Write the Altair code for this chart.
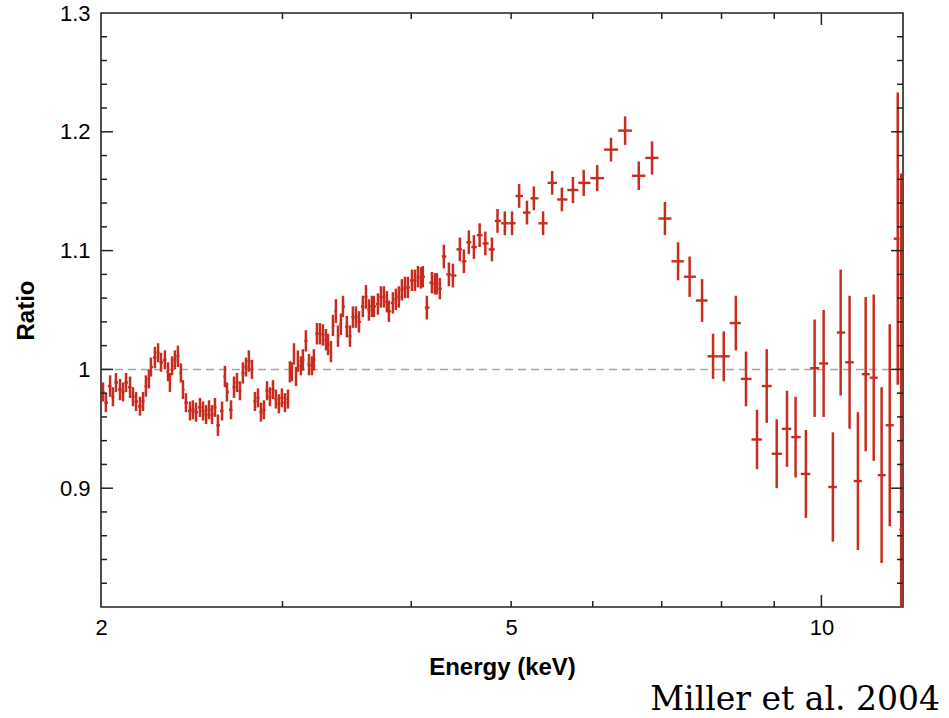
import altair as alt
import pandas as pd
import numpy as np

# ---------------- data ----------------
energy = [
    # 2 - 3 keV
    2.009, 2.022, 2.041, 2.054, 2.068, 2.087, 2.101, 2.115, 2.134, 2.148,
    2.163, 2.182, 2.197, 2.211, 2.226, 2.236, 2.256, 2.272, 2.287, 2.307,
    2.323, 2.333, 2.344, 2.359, 2.375, 2.391, 2.402, 2.418, 2.440, 2.456,
    2.473, 2.495, 2.512, 2.529, 2.546, 2.563, 2.580, 2.597, 2.621, 2.638,
    2.650, 2.674, 2.692, 2.710, 2.728, 2.746, 2.765, 2.783, 2.802, 2.821,
    2.840, 2.859, 2.878, 2.898, 2.917, 2.937, 2.956, 2.976, 2.996, 3.017,
    3.037, 3.050,
    # 3 - 4.6 keV
    3.064, 3.078, 3.092, 3.105, 3.126, 3.140, 3.161, 3.183, 3.204, 3.218,
    3.240, 3.262, 3.284, 3.306, 3.321, 3.343, 3.358, 3.380, 3.396, 3.418,
    3.434, 3.464, 3.488, 3.511, 3.535, 3.559, 3.590, 3.615, 3.639, 3.663,
    3.680, 3.713, 3.738, 3.763, 3.788, 3.805, 3.839, 3.865, 3.891, 3.917,
    3.944, 3.970, 4.006, 4.033, 4.060, 4.087, 4.105, 4.142, 4.189, 4.217,
    4.236, 4.264, 4.302, 4.351, 4.390, 4.459, 4.499, 4.549, 4.601,
    # 4.6 - 12 keV
    4.66, 4.72, 4.79, 4.85, 4.93, 5.01, 5.09, 5.18, 5.26, 5.37,
    5.48, 5.60, 5.74, 5.88, 6.06, 6.25, 6.45, 6.65, 6.85, 7.05,
    7.26, 7.45, 7.66, 7.85, 8.04, 8.26, 8.45, 8.66, 8.85, 9.05,
    9.26, 9.44, 9.66, 9.85, 10.05, 10.26, 10.44, 10.65, 10.85, 11.04,
    11.24, 11.44, 11.65, 11.86, 11.95,
]

ratio = [
    0.981, 0.972, 0.986, 0.977, 0.989, 0.983, 0.981, 0.989, 0.985, 0.977,
    0.973, 0.969, 0.973, 0.986, 0.992, 1.002, 1.010, 1.014, 1.006, 1.008,
    0.998, 0.989, 1.003, 1.008, 1.011, 0.997, 0.983, 0.972, 0.965, 0.966,
    0.964, 0.968, 0.965, 0.962, 0.966, 0.962, 0.968, 0.953, 0.965, 0.994,
    0.981, 0.966, 0.985, 0.989, 0.982, 0.997, 1.002, 1.007, 1.000, 0.973,
    0.976, 0.964, 0.966, 0.982, 0.977, 0.983, 0.975, 0.971, 0.976, 0.972,
    0.975, 0.998,
    0.998, 1.013, 0.994, 1.007, 1.003, 1.008, 1.024, 1.004, 1.003, 1.008,
    1.030, 1.030, 1.029, 1.025, 1.021, 1.015, 1.037, 1.049, 1.028, 1.038,
    1.053, 1.036, 1.028, 1.044, 1.044, 1.040, 1.053, 1.061, 1.050, 1.053,
    1.053, 1.055, 1.061, 1.061, 1.057, 1.049, 1.056, 1.059, 1.061, 1.067,
    1.069, 1.069, 1.075, 1.075, 1.078, 1.077, 1.078, 1.052, 1.073, 1.072,
    1.072, 1.068, 1.095, 1.080, 1.079, 1.101, 1.091, 1.107, 1.103,
    1.113, 1.106, 1.101, 1.125, 1.123, 1.123, 1.146, 1.132, 1.144, 1.123,
    1.157, 1.143, 1.151, 1.157, 1.161, 1.185, 1.201, 1.163, 1.178, 1.127,
    1.091, 1.078, 1.058, 1.011, 1.011, 1.039, 0.992, 0.941, 0.986, 0.929,
    0.950, 0.943, 0.912, 1.001, 1.005, 0.901, 1.031, 1.006, 0.906, 0.996,
    0.993, 0.911, 0.953, 1.110, 0.865,
]

ratio_err = [
    0.008, 0.008, 0.009, 0.008, 0.008, 0.009, 0.008, 0.008, 0.009, 0.008,
    0.008, 0.008, 0.008, 0.009, 0.008, 0.008, 0.009, 0.008, 0.008, 0.008,
    0.008, 0.008, 0.008, 0.008, 0.009, 0.008, 0.008, 0.008, 0.008, 0.008,
    0.008, 0.008, 0.008, 0.008, 0.008, 0.008, 0.008, 0.009, 0.008, 0.009,
    0.008, 0.008, 0.009, 0.008, 0.008, 0.009, 0.008, 0.009, 0.008, 0.008,
    0.008, 0.008, 0.008, 0.008, 0.008, 0.008, 0.008, 0.008, 0.008, 0.008,
    0.008, 0.009,
    0.008, 0.009, 0.008, 0.009, 0.008, 0.009, 0.009, 0.009, 0.008, 0.009,
    0.009, 0.009, 0.009, 0.009, 0.009, 0.009, 0.009, 0.010, 0.009, 0.009,
    0.009, 0.009, 0.009, 0.009, 0.009, 0.009, 0.009, 0.010, 0.009, 0.009,
    0.009, 0.009, 0.009, 0.009, 0.009, 0.009, 0.009, 0.009, 0.009, 0.009,
    0.009, 0.009, 0.009, 0.009, 0.009, 0.009, 0.009, 0.010, 0.009, 0.009,
    0.009, 0.009, 0.010, 0.010, 0.010, 0.010, 0.010, 0.010, 0.010,
    0.010, 0.010, 0.010, 0.010, 0.010, 0.010, 0.010, 0.010, 0.010, 0.010,
    0.010, 0.010, 0.011, 0.011, 0.011, 0.010, 0.012, 0.012, 0.014, 0.014,
    0.016, 0.017, 0.018, 0.019, 0.021, 0.023, 0.023, 0.025, 0.031, 0.029,
    0.032, 0.034, 0.037, 0.041, 0.045, 0.046, 0.053, 0.056, 0.058, 0.065,
    0.070, 0.074, 0.085, 0.123, 0.300,
]

x_label_values = [2, 5, 10]
x_major_ticks = [10]
x_minor_ticks = [3, 4, 5, 6, 7, 8, 9]
y_label_values = [0.9, 1.0, 1.1, 1.2, 1.3]
y_major_ticks = [0.9, 1.0, 1.1, 1.2]
y_minor_ticks = [0.82, 0.84, 0.86, 0.88, 0.92, 0.94, 0.96, 0.98,
                 1.02, 1.04, 1.06, 1.08, 1.12, 1.14, 1.16, 1.18,
                 1.22, 1.24, 1.26, 1.28]
reference_level = [1.0]
citation = ["Miller et al. 2004"]

# ---------------- derived table ----------------
e = np.array(energy)
edges = np.sqrt(e[:-1] * e[1:])
x_lo = np.concatenate([[e[0] ** 2 / edges[0]], edges])
x_hi = np.concatenate([edges, [e[-1] ** 2 / edges[-1]]])
r = np.array(ratio)
dr = np.array(ratio_err)
df = pd.DataFrame({
    "energy": e, "ratio": r,
    "r_lo": r - dr, "r_hi": r + dr,
    "x_lo": x_lo, "x_hi": x_hi,
})

W, H = 802, 594
RED = "#c62d1f"
FRAME = "#222222"
FONT = "Liberation Sans"

xscale = alt.Scale(type="log", domain=[2, 12], nice=False)
yscale = alt.Scale(domain=[0.8, 1.3], nice=False, zero=False)

x_axis = alt.Axis(values=x_label_values, format="~g", title="Energy (keV)",
                  ticks=False, domain=False, grid=False,
                  labelFont=FONT, labelFontSize=22, labelColor="black",
                  labelPadding=10, labelFlush=False,
                  titleFont=FONT, titleFontSize=24, titleFontWeight="bold",
                  titleColor="black", titleY=60, titleBaseline="middle")
y_axis = alt.Axis(values=y_label_values, format="~g", title="Ratio",
                  ticks=False, domain=False, grid=False,
                  labelFont=FONT, labelFontSize=22, labelColor="black",
                  labelPadding=11, labelFlush=False,
                  titleFont=FONT, titleFontSize=24, titleFontWeight="bold",
                  titleColor="black", titleAngle=270, titleX=-75, titleY=H / 2,
                  titleAlign="center", titleBaseline="middle")

dash = alt.Chart(pd.DataFrame({"y": reference_level})).mark_rule(
    color="#a6a6a6", strokeWidth=1.5, strokeDash=[8, 5]
).encode(y=alt.Y("y:Q", scale=yscale, axis=y_axis))

vbars = alt.Chart(df).mark_rule(color=RED, strokeWidth=2.5, clip=True).encode(
    x=alt.X("energy:Q", scale=xscale, axis=x_axis),
    y=alt.Y("r_lo:Q", scale=yscale, axis=y_axis),
    y2="r_hi:Q",
)
hbars = alt.Chart(df).mark_rule(color=RED, strokeWidth=2.4, clip=True).encode(
    x=alt.X("x_lo:Q", scale=xscale, axis=x_axis),
    x2="x_hi:Q",
    y=alt.Y("ratio:Q", scale=yscale, axis=y_axis),
)

def xticks(vals, length):
    d = pd.DataFrame({"v": vals})
    b = alt.Chart(d).mark_rule(color=FRAME, strokeWidth=1.5).encode(
        x=alt.X("v:Q", scale=xscale, axis=x_axis), y=alt.value(H), y2=alt.value(H - length))
    t = alt.Chart(d).mark_rule(color=FRAME, strokeWidth=1.5).encode(
        x=alt.X("v:Q", scale=xscale, axis=x_axis), y=alt.value(0), y2=alt.value(length))
    return [b, t]

def yticks(vals, length):
    d = pd.DataFrame({"v": vals})
    l = alt.Chart(d).mark_rule(color=FRAME, strokeWidth=1.5).encode(
        y=alt.Y("v:Q", scale=yscale, axis=y_axis), x=alt.value(0), x2=alt.value(length))
    rr = alt.Chart(d).mark_rule(color=FRAME, strokeWidth=1.5).encode(
        y=alt.Y("v:Q", scale=yscale, axis=y_axis), x=alt.value(W), x2=alt.value(W - length))
    return [l, rr]

cite = alt.Chart(pd.DataFrame({"t": citation})).mark_text(
    align="right", baseline="alphabetic", font="DejaVu Serif", fontSize=33, color="black"
).encode(text="t:N", x=alt.value(839), y=alt.value(697))

layers = [dash, vbars, hbars] + xticks(x_minor_ticks, 6) + xticks(x_major_ticks, 12) \
    + yticks(y_minor_ticks, 6) + yticks(y_major_ticks, 12) + [cite]

chart = alt.layer(*layers).properties(
    width=W, height=H,
    autosize=alt.AutoSizeParams(type="none"),
    padding={"left": 101, "top": 13, "right": 46, "bottom": 111},
    background="white",
).configure_view(stroke=FRAME, strokeWidth=1.6)

chart.save("out.html", embed_options={"renderer": "svg", "actions": False})
